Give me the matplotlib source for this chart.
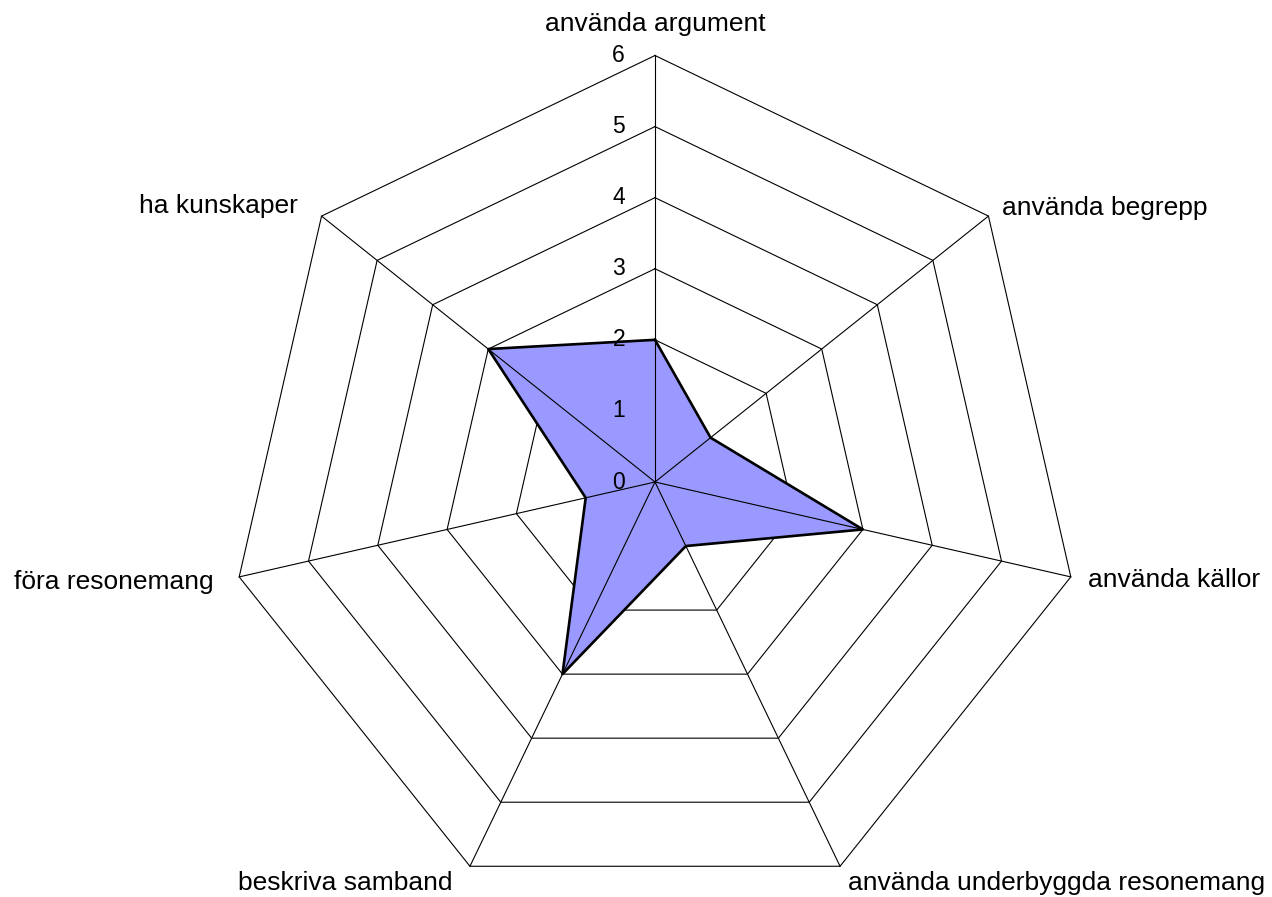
import numpy as np
import matplotlib.pyplot as plt

plt.rcParams['font.family'] = ['Liberation Sans', 'DejaVu Sans']

# Kategorier och värden (medurs från toppen)
categories = ['använda argument', 'använda begrepp', 'använda källor',
              'använda underbyggda resonemang', 'beskriva samband',
              'föra resonemang', 'ha kunskaper']
values = [2, 1, 3, 1, 3, 1, 3]
ticks = [0, 1, 2, 3, 4, 5, 6]

n = len(categories)
angles = np.arange(n) * 2 * np.pi / n


def to_xy(r, a):
    return r * np.sin(a), r * np.cos(a)


fig = plt.figure(figsize=(12.72, 8.97), dpi=100)
ax = fig.add_axes([0, 0, 1, 1])

# skala: pixlar per enhet
ppu = 426.5 / 6
cx, cy = 655, 482
ax.set_xlim(-cx / ppu, (1272 - cx) / ppu)
ax.set_ylim(-(897 - cy) / ppu, cy / ppu)
ax.set_aspect('equal')
ax.axis('off')

# Ringar (under ytan)
for t in ticks[1:]:
    gx, gy = to_xy(np.full(n + 1, t, dtype=float), np.append(angles, angles[0]))
    ax.plot(gx, gy, color='black', lw=0.8, zorder=1)

# Dataytan
vx, vy = to_xy(np.array(values, dtype=float), angles)
ax.fill(vx, vy, color='#9999FF', zorder=2)

# Ekrar (över ytan)
for a in angles:
    ex, ey = to_xy(ticks[-1], a)
    ax.plot([0, ex], [0, ey], color='black', lw=0.8, zorder=3)

# Kontur
ax.plot(np.append(vx, vx[0]), np.append(vy, vy[0]), color='black', lw=1.9, zorder=4)

# Skalvärden
for t in ticks:
    ax.annotate(str(t), (0, t), xytext=(-30, 0), textcoords='offset pixels',
                ha='right', va='center', fontsize=16.5, zorder=5)

# Etiketter
label_pos = [
    ((0, 20), 'center', 'bottom'),
    ((14, 8), 'left', 'center'),
    ((17, -3), 'left', 'center'),
    ((8, -17), 'left', 'center'),
    ((-17, -17), 'right', 'center'),
    ((-26, -5), 'right', 'center'),
    ((-24, 10), 'right', 'center'),
]
for cat, a, (off, ha, va) in zip(categories, angles, label_pos):
    px, py = to_xy(ticks[-1], a)
    ax.annotate(cat, (px, py), xytext=off, textcoords='offset pixels',
                ha=ha, va=va, fontsize=19)

fig.savefig('out.png', dpi=100)
